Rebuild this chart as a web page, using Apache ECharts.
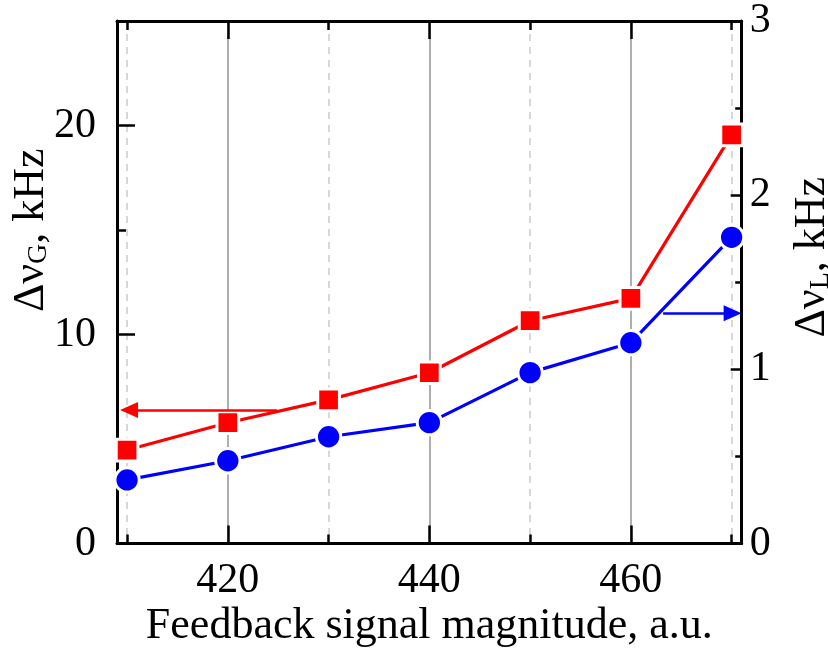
<!DOCTYPE html>
<html>
<head>
<meta charset="utf-8">
<script src="https://cdn.jsdelivr.net/npm/echarts@6/dist/echarts.min.js"></script>
<style>
html,body{margin:0;padding:0;background:#fff;}
#chart{width:828px;height:651px;}
</style>
</head>
<body>
<div id="chart"></div>
<script>
// ---- data ----
const xValues = [410, 420, 430, 440, 450, 460, 470];
const redG = [4.47, 5.78, 6.87, 8.17, 10.66, 11.73, 19.55];   // Δν_G, kHz (left axis)
const blueL = [0.365, 0.475, 0.613, 0.694, 0.981, 1.153, 1.758]; // Δν_L, kHz (right axis)

const xMajorTicks = [420, 440, 460];
const xMinorTicks = [410, 430, 450, 470];
const leftMajorTicks = [0, 10, 20];
const leftMinorTicks = [5, 15, 25];
const rightMajorTicks = [0, 1, 2, 3];
const rightMinorTicks = [0.5, 1.5, 2.5];

// arrow annotations: [x from, x to (arrowhead centre), y]
const redArrow = [424.9, 410.2, 6.39];
const blueArrow = [463.2, 470.1, 1.322];

const X_MIN = 409, X_MAX = 471;
const YL_MAX = 25, YR_MAX = 3;

const FONT = 'Liberation Serif';
const black = '#000';

function pairs(xs, ys) { return xs.map((x, i) => [x, ys[i]]); }

const axisLineStyle = { show: true, onZero: false, lineStyle: { color: black, width: 3 } };

const chart = echarts.init(document.getElementById('chart'), null, { renderer: 'canvas' });

const nameRich = {
  n: { fontFamily: FONT, fontSize: 44, color: black, lineHeight: 50, verticalAlign: 'bottom' },
  s: { fontFamily: FONT, fontSize: 28, color: black, lineHeight: 50, verticalAlign: 'bottom' }
};

const option = {
  backgroundColor: '#fff',
  animation: false,
  grid: { left: 117, right: 86.3, top: 21, bottom: 107.5, containLabel: false, outerBoundsMode: 'none' },
  xAxis: [
    {
      type: 'value', min: X_MIN, max: X_MAX, position: 'bottom',
      axisLine: axisLineStyle,
      axisTick: { show: true, inside: true, length: 18, customValues: xMajorTicks, lineStyle: { color: black, width: 2.5 } },
      axisLabel: { show: true, customValues: xMajorTicks, fontFamily: FONT, fontSize: 42, color: black, margin: 16 },
      splitLine: { show: true, lineStyle: { color: '#9a9a9a', width: 1.6, type: 'solid' } },
      name: 'Feedback signal magnitude, a.u.', nameLocation: 'middle', nameGap: 61,
      nameTextStyle: { fontFamily: FONT, fontSize: 44, color: black },
      nameMoveOverlap: false
    },
    {
      type: 'value', min: X_MIN, max: X_MAX, position: 'bottom',
      axisLine: { show: false, onZero: false },
      axisTick: { show: true, inside: true, length: 9, customValues: xMinorTicks, lineStyle: { color: black, width: 2.5 } },
      axisLabel: { show: false },
      splitLine: { show: true, lineStyle: { color: '#cccccc', width: 1.5, type: [7, 6] } }
    },
    {
      type: 'value', min: X_MIN, max: X_MAX, position: 'top',
      axisLine: axisLineStyle,
      axisTick: { show: true, inside: true, length: 18, customValues: xMajorTicks, lineStyle: { color: black, width: 2.5 } },
      axisLabel: { show: false },
      splitLine: { show: false }
    },
    {
      type: 'value', min: X_MIN, max: X_MAX, position: 'top',
      axisLine: { show: false, onZero: false },
      axisTick: { show: true, inside: true, length: 9, customValues: xMinorTicks, lineStyle: { color: black, width: 2.5 } },
      axisLabel: { show: false },
      splitLine: { show: false }
    }
  ],
  yAxis: [
    {
      type: 'value', min: 0, max: YL_MAX, position: 'left',
      axisLine: axisLineStyle,
      axisTick: { show: true, inside: true, length: 18, customValues: leftMajorTicks, lineStyle: { color: black, width: 2.5 } },
      axisLabel: { show: true, customValues: leftMajorTicks, fontFamily: FONT, fontSize: 42, color: black, margin: 21 },
      splitLine: { show: false },
      name: '{n|Δν}{s|G}{n|, kHz}', nameLocation: 'middle', nameRotate: 90, nameGap: 64,
      nameTextStyle: { rich: nameRich, padding: [0, 0, 0, 104] },
      nameMoveOverlap: false
    },
    {
      type: 'value', min: 0, max: YL_MAX, position: 'left',
      axisLine: { show: false, onZero: false },
      axisTick: { show: true, inside: true, length: 9, customValues: leftMinorTicks, lineStyle: { color: black, width: 2.5 } },
      axisLabel: { show: false },
      splitLine: { show: false }
    },
    {
      type: 'value', min: 0, max: YR_MAX, position: 'right',
      axisLine: axisLineStyle,
      axisTick: { show: true, inside: true, length: 11, customValues: rightMajorTicks, lineStyle: { color: black, width: 2.5 } },
      axisLabel: { show: true, customValues: rightMajorTicks, fontFamily: FONT, fontSize: 42, color: black, margin: 8 },
      splitLine: { show: false },
      name: '{n|Δν}{s|L}{n|, kHz}', nameLocation: 'middle', nameRotate: 90, nameGap: 43,
      nameTextStyle: { rich: nameRich, padding: [0, 0, 0, 50] },
      nameMoveOverlap: false
    },
    {
      type: 'value', min: 0, max: YR_MAX, position: 'right',
      axisLine: { show: false, onZero: false },
      axisTick: { show: true, inside: true, length: 6.5, customValues: rightMinorTicks, lineStyle: { color: black, width: 2.5 } },
      axisLabel: { show: false },
      splitLine: { show: false }
    }
  ],
  series: [
    {
      name: 'Δν_G', type: 'line', xAxisIndex: 0, yAxisIndex: 0,
      data: pairs(xValues, redG), clip: false,
      symbol: 'rect', symbolSize: 21.7,
      lineStyle: { color: '#ff0000', width: 3.2 },
      itemStyle: { color: '#ff0000', borderColor: '#fff', borderWidth: 3 },
      z: 3,
      markLine: {
        silent: true, animation: false,
        symbol: ['none', 'triangle'], symbolSize: [16, 18],
        lineStyle: { color: '#ff0000', width: 2.7, type: 'solid' },
        label: { show: false },
        data: [[{ coord: [redArrow[0], redArrow[2]] }, { coord: [redArrow[1], redArrow[2]] }]]
      }
    },
    {
      name: 'Δν_L', type: 'line', xAxisIndex: 0, yAxisIndex: 2,
      data: pairs(xValues, blueL), clip: false,
      symbol: 'circle', symbolSize: 24.3,
      lineStyle: { color: '#0000ff', width: 3.2 },
      itemStyle: { color: '#0000ff', borderColor: '#fff', borderWidth: 3 },
      z: 4,
      markLine: {
        silent: true, animation: false,
        symbol: ['none', 'triangle'], symbolSize: [16, 18],
        lineStyle: { color: '#0000ff', width: 2.7, type: 'solid' },
        label: { show: false },
        data: [[{ coord: [blueArrow[0], blueArrow[2]] }, { coord: [blueArrow[1], blueArrow[2]] }]]
      }
    }
  ]
};

chart.setOption(option);
</script>
</body>
</html>
